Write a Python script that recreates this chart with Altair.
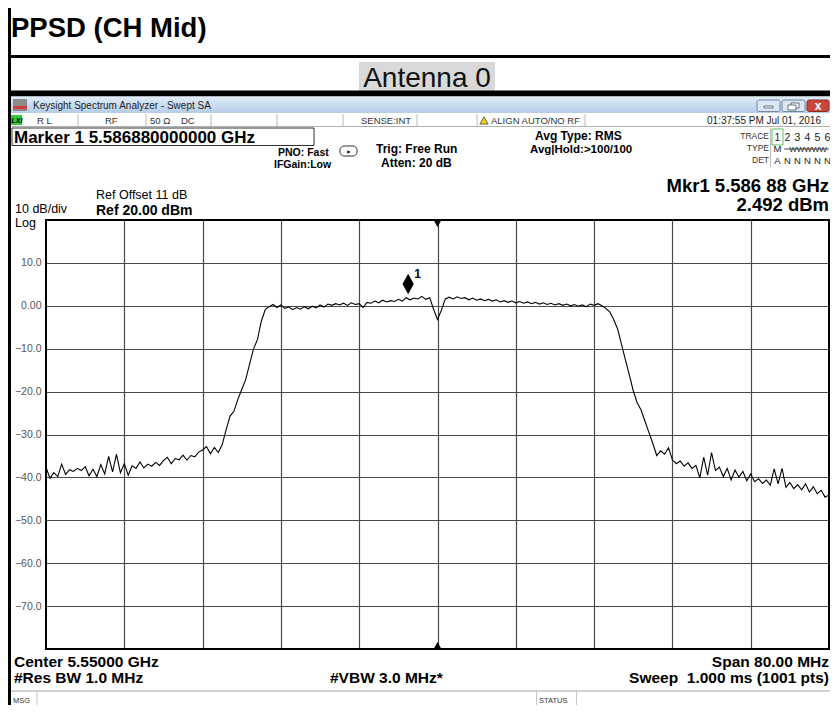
import altair as alt
import pandas as pd

# ---------------- data ----------------
CENTER_GHZ = 5.55
SPAN_MHZ = 80.0
N_POINTS = 201

level_dbm = [
    # 5.5100 .. 5.5196 GHz
    -37.6, -40.2, -38.9, -39.8, -36.9, -39.3, -38.2, -38.6, -37.9, -38.4, -37.5, -39.6, -38.1,
    -39.8, -37.0, -39.2, -35.1, -38.7, -34.6, -38.9, -36.8, -39.5, -37.3, -37.9, -36.4,
    # 5.5200 .. 5.5296
    -37.8, -36.9, -37.4, -36.5, -37.2, -36.1, -35.3, -36.8, -35.6, -35.9, -34.8, -36.0, -34.9,
    -35.2, -34.1, -33.6, -32.8, -34.5, -33.0, -34.2, -32.4, -28.9, -25.7, -24.6, -21.8,
    # 5.5300 .. 5.5396
    -19.5, -17.2, -13.6, -10.1, -7.9, -3.6, -0.9, -0.2, 0.3, -0.4, 0.2, -0.6, -0.3,
    -0.9, -0.4, -0.8, -0.2, -0.7, -0.1, -0.5, 0.2, -0.3, 0.4, 0.1, 0.5,
    # 5.5400 .. 5.5496
    0.2, 0.6, 0.1, 0.7, 0.3, 0.5, -0.4, 0.8, 0.6, 1.1, 0.7, 1.3, 0.9,
    1.2, 1.0, 1.5, 1.1, 1.9, 1.4, 1.8, 1.6, 2.2, 1.5, 1.9, -0.8,
    # 5.5500 .. 5.5596
    -3.2, -1.0, 1.6, 2.0, 1.6, 2.1, 1.7, 1.9, 1.4, 1.8, 1.3, 1.6, 1.2,
    1.5, 1.1, 1.4, 0.9, 1.2, 0.8, 1.1, 0.7, 1.0, 0.6, 0.9, 0.5,
    # 5.5600 .. 5.5696
    0.8, 0.4, 0.7, 0.3, 0.6, 0.2, 0.5, 0.1, 0.4, 0.0, 0.3, -0.1, 0.2,
    -0.2, 0.4, 0.1, 0.5, 0.0, -0.6, -1.4, -3.2, -5.4, -9.0, -12.6, -16.1,
    # 5.5700 .. 5.5796
    -19.8, -22.6, -24.3, -26.9, -29.5, -32.1, -34.9, -33.8, -34.6, -33.1, -35.9, -36.8, -36.2,
    -37.4, -36.6, -37.9, -37.2, -40.1, -35.3, -39.5, -34.2, -38.4, -37.6, -39.8, -37.9,
    # 5.5800 .. 5.5900
    -40.6, -38.3, -39.9, -38.6, -40.8, -39.2, -41.0, -40.3, -41.4, -40.6, -41.8, -38.0, -41.5,
    -37.9, -42.3, -41.2, -42.6, -41.7, -42.9, -41.5, -43.4, -42.2, -43.8, -43.0, -44.6, -44.1,
]
assert len(level_dbm) == N_POINTS

start_ghz = CENTER_GHZ - SPAN_MHZ / 2000.0
step_ghz = SPAN_MHZ / 1000.0 / (N_POINTS - 1)
freq_ghz = [round(start_ghz + i * step_ghz, 6) for i in range(N_POINTS)]

x_grid_ghz = [5.518, 5.526, 5.534, 5.542, 5.550, 5.558, 5.566, 5.574, 5.582]
y_ticks_dbm = [10, 0, -10, -20, -30, -40, -50, -60, -70]
ref_level = [20]
bottom_level = [-80]

marker_freq = [5.5470]
marker_level = [2.492]

# ---------------- layout helpers ----------------
W, H = 783, 429          # plot area
OX, OY = 46, 220         # page position of plot area
FONT = "Liberation Sans, Arial, sans-serif"
R = 829                  # right edge used for right-aligned texts


def X(px):
    return px - OX


def Y(py):
    return py - OY


one = alt.Data(values=[{"k": 0}])


def text(s, x, y, size, bold=False, align="left", color="#000000", italic=False):
    kw = dict(text=s, align=align, baseline="alphabetic", fontSize=size,
              fontWeight="bold" if bold else "normal", color=color, font=FONT)
    if italic:
        kw["fontStyle"] = "italic"
    return alt.Chart(one).mark_text(**kw).encode(x=alt.value(X(x)), y=alt.value(Y(y)))


def box(x1, y1, x2, y2, fill="#ffffff", stroke="#ffffff", sw=0, radius=0, fop=1):
    return alt.Chart(one).mark_rect(
        fill=fill, fillOpacity=fop, stroke=stroke, strokeWidth=sw, cornerRadius=radius
    ).encode(x=alt.value(X(x1)), x2=alt.value(X(x2)), y=alt.value(Y(y1)), y2=alt.value(Y(y2)))


def hline(x1, x2, y, color="#000000", w=1):
    return alt.Chart(one).mark_rule(color=color, strokeWidth=w).encode(
        x=alt.value(X(x1)), x2=alt.value(X(x2)), y=alt.value(Y(y)))


def vline(x, y1, y2, color="#000000", w=1):
    return alt.Chart(one).mark_rule(color=color, strokeWidth=w).encode(
        x=alt.value(X(x)), y=alt.value(Y(y1)), y2=alt.value(Y(y2)))


def point(x, y, shape, size, fill, stroke="#000000", sw=0.6):
    return alt.Chart(one).mark_point(shape=shape, size=size, filled=True, fill=fill,
                                     stroke=stroke, strokeWidth=sw, opacity=1).encode(
        x=alt.value(X(x)), y=alt.value(Y(y)))


layers = []

# ---------------- page frame ----------------
layers.append(box(8, 8, 11, 705, fill="#000000"))
layers.append(box(8, 55, 830, 58, fill="#000000"))
layers.append(text("PPSD (CH Mid)", 11, 37, 27.5, bold=True))
layers.append(box(359, 62, 495, 91, fill="#d9d9d9"))
layers.append(text("Antenna 0", 427, 87, 28, align="center", color="#111111"))
layers.append(box(8, 90.5, 830, 96.5, fill="#000000"))

# ---------------- analyzer title bar ----------------
grad = alt.LinearGradient(gradient="linear",
                          stops=[alt.GradientStop(color="#e1ecf8", offset=0),
                                 alt.GradientStop(color="#b5cde8", offset=1)],
                          x1=0, x2=0, y1=0, y2=1)
layers.append(alt.Chart(one).mark_rect(fill=grad).encode(
    x=alt.value(X(11)), x2=alt.value(X(830)), y=alt.value(Y(96.5)), y2=alt.value(Y(113))))
layers.append(box(13, 99, 27, 111, fill="#8c8c8c"))
layers.append(box(13, 106, 27, 109, fill="#d23a3a"))
layers.append(text("Keysight Spectrum Analyzer - Swept SA", 33, 109, 10, color="#1e1e1e"))
layers.append(box(757, 100, 780, 111.5, fill="#dbe7f5", stroke="#7388a3", sw=1, radius=2))
layers.append(box(764, 106, 773, 108, fill="#ffffff", stroke="#445566", sw=0.8))
layers.append(box(782, 100, 805, 111.5, fill="#dbe7f5", stroke="#7388a3", sw=1, radius=2))
layers.append(box(791, 103, 799, 108, fill="#ffffff", stroke="#445566", sw=0.8))
layers.append(box(788, 105, 796, 110, fill="#ffffff", stroke="#445566", sw=0.8))
layers.append(box(807, 100, 829, 111.5, fill="#c8473d", stroke="#8b2a23", sw=1, radius=2))
layers.append(text("x", 818, 110, 12, bold=True, align="center", color="#ffffff"))

# ---------------- status row ----------------
layers.append(hline(11, 830, 126.5, color="#b0b0b0"))
for xv in [78, 146, 211, 277, 343, 417, 477, 585]:
    layers.append(vline(xv, 114, 126, color="#b8b8b8"))
layers.append(box(11, 115, 22, 125, fill="#2fcc3a"))
layers.append(text("LXI", 11.5, 123, 7, bold=True, italic=True))
layers.append(text("R L", 37, 124, 9.5, color="#333333"))
layers.append(text("RF", 105, 124, 9.5, color="#333333"))
layers.append(text("50 \u03a9", 150, 124, 9.5, color="#333333"))
layers.append(text("DC", 181, 124, 9.5, color="#333333"))
layers.append(text("SENSE:INT", 361, 124, 9.5, color="#333333"))
layers.append(point(484, 120.5, "triangle-up", 70, "#f2cf1d", stroke="#333333", sw=0.7))
layers.append(text("ALIGN AUTO/NO RF", 491, 124, 9.5, color="#333333"))
layers.append(text("01:37:55 PM\u00a0Jul 01, 2016", 821, 124, 10, align="right", color="#222222"))

# ---------------- settings block ----------------
layers.append(box(12, 128, 314, 145.5, fill="#ffffff", stroke="#333333", sw=1))
layers.append(text("Marker 1 5.586880000000 GHz", 14, 143, 17, bold=True))
layers.append(text("PNO: Fast", 278, 156, 10.5, bold=True))
layers.append(text("IFGain:Low", 274, 168, 10.5, bold=True))
layers.append(box(340, 146, 357, 156, fill="#ffffff", stroke="#333333", sw=1, radius=4))
layers.append(point(349, 152, "triangle-right", 14, "#000000", sw=0))
layers.append(text("Trig: Free Run", 376, 153, 12, bold=True))
layers.append(text("Atten: 20 dB", 381, 167, 12, bold=True))
layers.append(text("Avg Type: RMS", 535, 139.5, 12, bold=True))
layers.append(text("Avg|Hold:>100/100", 530, 153, 11.5, bold=True))

layers.append(text("TRACE", 769, 139, 8.5, align="right", color="#333333"))
layers.append(text("TYPE", 769, 151, 8.5, align="right", color="#333333"))
layers.append(text("DET", 769, 163, 8.5, align="right", color="#333333"))
layers.append(vline(770.5, 128, 167, color="#bbbbbb"))
layers.append(box(772, 129, 783, 145, fill="#ffffff", stroke="#5fbf5f", sw=1))
for i, lab in enumerate(["1", "2", "3", "4", "5", "6"]):
    layers.append(text(lab, 777.5 + 10 * i, 141, 10.5, align="center", color="#222222"))
layers.append(text("M", 777.5, 152, 9.5, align="center", color="#222222"))
layers.append(text("WWWWW", 808, 152, 8, align="center", color="#222222"))
layers.append(hline(784, 829, 149, color="#222222", w=0.8))
for i, lab in enumerate(["A", "N", "N", "N", "N", "N"]):
    layers.append(text(lab, 777.5 + 10 * i, 164, 9.5, align="center", color="#222222"))

layers.append(text("Mkr1 5.586 88 GHz", R, 192, 18.5, bold=True, align="right"))
layers.append(text("2.492 dBm", R, 211, 18.5, bold=True, align="right"))
layers.append(text("Ref Offset 11 dB", 96, 199, 12.5))
layers.append(text("Ref 20.00 dBm", 96, 215, 14, bold=True))
layers.append(text("10 dB/div", 15, 213, 12.5))
layers.append(text("Log", 15, 226.5, 12.5))

# ---------------- bottom annotation ----------------
layers.append(text("Center 5.55000 GHz", 14, 667, 15.5, bold=True))
layers.append(text("#Res BW 1.0 MHz", 14, 683, 15.5, bold=True))
layers.append(text("#VBW 3.0 MHz*", 330, 683, 15.5, bold=True))
layers.append(text("Span 80.00 MHz", R, 667, 15.5, bold=True, align="right"))
layers.append(text("Sweep \u00a01.000 ms (1001 pts)", R, 683, 15.5, bold=True, align="right"))
layers.append(hline(11, 830, 691, color="#c4c4c4", w=1.5))
layers.append(vline(37, 691, 705, color="#c4c4c4"))
layers.append(vline(536.5, 691, 705, color="#c4c4c4"))
layers.append(vline(576.5, 691, 705, color="#c4c4c4"))
layers.append(text("MSG", 13, 703, 7.5, color="#333333"))
layers.append(text("STATUS", 539, 703, 7.5, color="#333333"))

# ---------------- spectrum plot ----------------
xs = alt.Scale(domain=[5.51, 5.59], nice=False, zero=False)
ys = alt.Scale(domain=[-80, 20], nice=False, zero=False)

df = pd.DataFrame({"freq": freq_ghz, "level": level_dbm})
trace = alt.Chart(df).mark_line(color="#000000", strokeWidth=1.1, clip=True).encode(
    x=alt.X("freq:Q", scale=xs, title="",
            axis=alt.Axis(values=x_grid_ghz, grid=True, labels=False, ticks=False, domain=False,
                          gridColor="#4a4a4a", gridWidth=1.2, gridOpacity=1)),
    y=alt.Y("level:Q", scale=ys, title="",
            axis=alt.Axis(values=y_ticks_dbm, grid=True, ticks=False, domain=False,
                          labelExpr="datum.value == 0 ? '0.00' : format(datum.value, '.1f')",
                          labelFont=FONT, labelFontSize=10.5, labelColor="#555555",
                          labelPadding=5, gridColor="#4a4a4a", gridWidth=1.2, gridOpacity=1)),
)

mk = pd.DataFrame({"freq": marker_freq, "level": marker_level})
diamond = alt.Chart(mk).mark_point(shape="M0,-1L0.55,0L0,1L-0.55,0Z", size=420, filled=True,
                                   color="#000000", opacity=1, yOffset=-11).encode(
    x=alt.X("freq:Q", scale=xs), y=alt.Y("level:Q", scale=ys))
diamond_lab = alt.Chart(mk).mark_text(text="1", fontSize=12, fontWeight="bold", font=FONT,
                                      align="left", baseline="alphabetic", dx=6, dy=-17,
                                      color="#000000").encode(
    x=alt.X("freq:Q", scale=xs), y=alt.Y("level:Q", scale=ys))

tri_top = alt.Chart(pd.DataFrame({"freq": [CENTER_GHZ], "level": ref_level})).mark_point(
    shape="triangle-down", size=45, filled=True, color="#000000", opacity=1, yOffset=4).encode(
    x=alt.X("freq:Q", scale=xs), y=alt.Y("level:Q", scale=ys))
tri_bot = alt.Chart(pd.DataFrame({"freq": [CENTER_GHZ], "level": bottom_level})).mark_point(
    shape="triangle-up", size=45, filled=True, color="#000000", opacity=1, yOffset=-4).encode(
    x=alt.X("freq:Q", scale=xs), y=alt.Y("level:Q", scale=ys))

border = alt.Chart(one).mark_rect(fill="#ffffff", fillOpacity=0, stroke="#000000", strokeWidth=2).encode(
    x=alt.value(0), x2=alt.value(W), y=alt.value(0), y2=alt.value(H))

chart = alt.layer(trace, *layers, diamond, diamond_lab, tri_top, tri_bot, border).properties(
    width=W, height=H,
    autosize=alt.AutoSizeParams(type="none"),
    padding={"left": 38, "top": 212, "right": 1, "bottom": 56},
    background="#ffffff",
).configure_view(strokeWidth=0)

chart.save("out.html", embed_options={"renderer": "svg", "actions": False})
